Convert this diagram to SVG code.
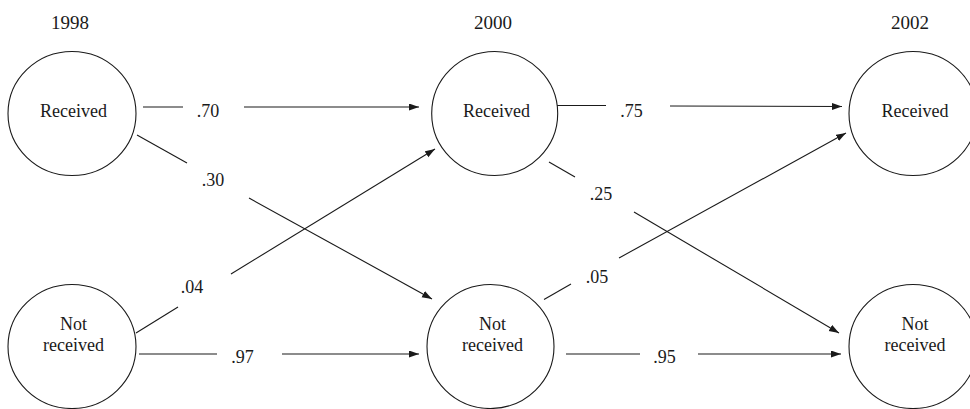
<svg xmlns="http://www.w3.org/2000/svg" width="970" height="409" viewBox="0 0 970 409">
  <defs>
    <marker id="arrow" markerUnits="userSpaceOnUse" markerWidth="11" markerHeight="8" refX="10" refY="3.5" orient="auto">
      <path d="M0,0 L10,3.5 L0,7 z" fill="#1a1a1a"/>
    </marker>
    <style>
      .node { fill: #fff; stroke: #1a1a1a; stroke-width: 1.1; }
      text { font-family: 'Liberation Serif', 'Noto Serif', 'DejaVu Serif', 'FreeSerif', 'Nimbus Roman', 'Nimbus Roman No9 L', Tinos, Georgia, 'Times New Roman', serif; fill: #1a1a1a; text-anchor: middle; }
      .lbl { font-size: 18px; }
      .year { font-size: 19px; }
      .edge { stroke: #1a1a1a; stroke-width: 1.1; fill: none; }
      .head { marker-end: url(#arrow); }
    </style>
  </defs>
  <rect width="970" height="409" fill="#fff"/>

  <!-- year headings -->
  <g id="years">
    <text class="year" x="70" y="29">1998</text>
    <text class="year" x="493" y="29">2000</text>
    <text class="year" x="910" y="29">2002</text>
  </g>

  <!-- transition connectors, each split around its probability label -->
  <g id="connectors">
    <!-- 1998 received -> 2000 received -->
    <line class="edge" x1="143" y1="107" x2="183" y2="107"/>
    <line class="edge head" x1="244" y1="107" x2="419" y2="107"/>
    <text class="lbl" x="208" y="117">.70</text>

    <!-- 1998 received -> 2000 not received -->
    <line class="edge" x1="137" y1="135" x2="187" y2="163"/>
    <line class="edge head" x1="249" y1="198" x2="432" y2="299"/>
    <text class="lbl" x="213" y="186">.30</text>

    <!-- 1998 not received -> 2000 received -->
    <line class="edge" x1="136" y1="333" x2="178" y2="307"/>
    <line class="edge head" x1="231" y1="274" x2="435" y2="149"/>
    <text class="lbl" x="192" y="292.5">.04</text>

    <!-- 1998 not received -> 2000 not received -->
    <line class="edge" x1="139" y1="354" x2="217" y2="354"/>
    <line class="edge head" x1="282" y1="354" x2="419" y2="354"/>
    <text class="lbl" x="242.5" y="363">.97</text>

    <!-- 2000 received -> 2002 received -->
    <line class="edge" x1="557" y1="105.5" x2="606" y2="105.5"/>
    <line class="edge head" x1="670" y1="106" x2="842" y2="106.5"/>
    <text class="lbl" x="631.5" y="116.7">.75</text>

    <!-- 2000 received -> 2002 not received -->
    <line class="edge" x1="549" y1="162" x2="575" y2="177"/>
    <line class="edge head" x1="634" y1="212" x2="839" y2="333"/>
    <text class="lbl" x="601" y="199.5">.25</text>

    <!-- 2000 not received -> 2002 received -->
    <line class="edge" x1="544" y1="299.5" x2="571" y2="284"/>
    <line class="edge head" x1="619" y1="258" x2="846" y2="133"/>
    <text class="lbl" x="597" y="283">.05</text>

    <!-- 2000 not received -> 2002 not received -->
    <line class="edge" x1="566" y1="354" x2="640" y2="354"/>
    <line class="edge head" x1="698" y1="354" x2="841" y2="354"/>
    <text class="lbl" x="664.5" y="363.3">.95</text>
  </g>

  <!-- state nodes -->
  <g id="r1998">
    <ellipse class="node" cx="72" cy="113.5" rx="64" ry="62"/>
    <text class="lbl" x="73.5" y="116.7">Received</text>
  </g>
  <g id="n1998">
    <ellipse class="node" cx="72" cy="346.5" rx="64" ry="62"/>
    <text class="lbl" x="73.5" y="330">Not</text>
    <text class="lbl" x="73.5" y="350.7">received</text>
  </g>
  <g id="r2000">
    <ellipse class="node" cx="494.7" cy="113.5" rx="63" ry="62"/>
    <text class="lbl" x="496.5" y="116.7">Received</text>
  </g>
  <g id="n2000">
    <ellipse class="node" cx="490.5" cy="346.5" rx="63.5" ry="62"/>
    <text class="lbl" x="492.5" y="330">Not</text>
    <text class="lbl" x="492.5" y="350.7">received</text>
  </g>
  <g id="r2002">
    <ellipse class="node" cx="913" cy="113.5" rx="64" ry="62"/>
    <text class="lbl" x="915" y="116.7">Received</text>
  </g>
  <g id="n2002">
    <ellipse class="node" cx="913" cy="346.5" rx="64" ry="62"/>
    <text class="lbl" x="915" y="330">Not</text>
    <text class="lbl" x="915" y="350.7">received</text>
  </g>
</svg>
